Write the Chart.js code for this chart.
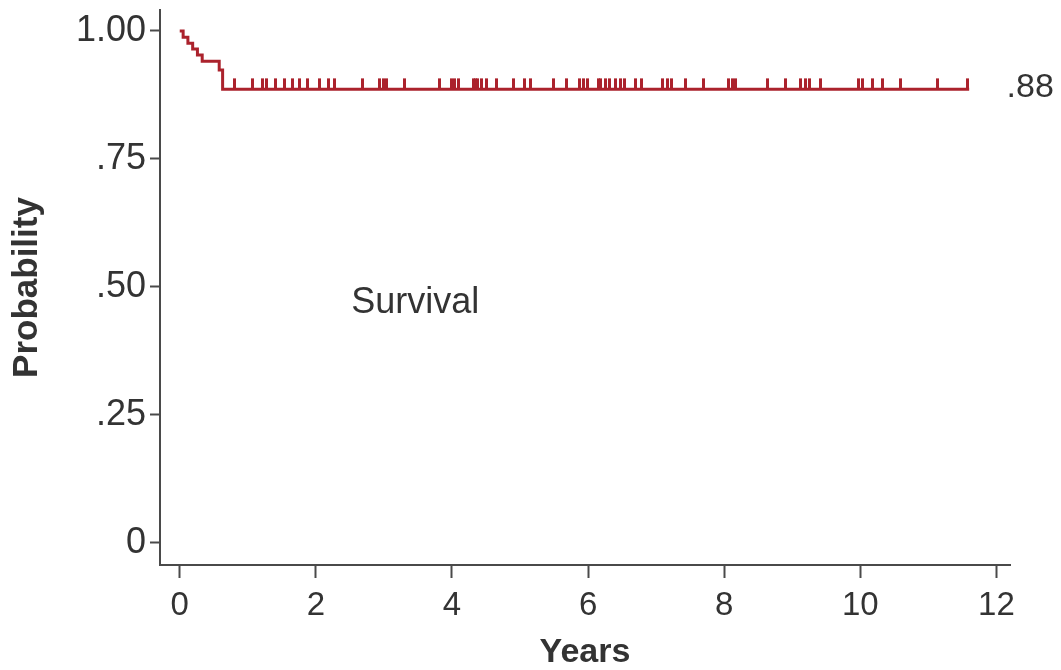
<!DOCTYPE html>
<html>
<head>
<meta charset="utf-8">
<script src="https://cdn.jsdelivr.net/npm/chart.js@4/dist/chart.umd.min.js"></script>
<style>
  html, body { margin: 0; padding: 0; background: #fff; }
  #wrap { width: 1061px; height: 670px; }
</style>
</head>
<body>
<div id="wrap"><canvas id="km"></canvas></div>
<script>
// Kaplan-Meier steps (years, survival probability)
const eventTimes = [0, 0.05, 0.12, 0.19, 0.26, 0.33, 0.58, 0.63, 11.60];
const survival   = [1.000, 0.988, 0.976, 0.965, 0.953, 0.941, 0.924, 0.886, 0.886];

// censored observations (years)
const censorTimes = [
  0.81, 1.07, 1.22, 1.28, 1.40, 1.54, 1.65, 1.76, 1.88, 2.06, 2.18, 2.28,
  2.68, 2.94, 2.99, 3.04, 3.31, 3.82, 4.00, 4.04, 4.09, 4.31, 4.34, 4.38,
  4.44, 4.51, 4.66, 4.90, 5.07, 5.15, 5.49, 5.69, 5.88, 5.94, 5.99, 6.15,
  6.18, 6.25, 6.32, 6.40, 6.47, 6.54, 6.69, 6.79, 7.10, 7.16, 7.22, 7.43,
  7.69, 8.06, 8.12, 8.16, 8.63, 8.90, 9.12, 9.19, 9.26, 9.41, 9.97, 10.03,
  10.18, 10.32, 10.59, 11.13, 11.57
];

const xTicks = [0, 2, 4, 6, 8, 10, 12];
const yTicks = [0, 0.25, 0.5, 0.75, 1];
const yTickLabels = ['0', '.25', '.50', '.75', '1.00'];

const lineColor = '#ab222c';
const axisColor = '#4a4a4a';
const textColor = '#333333';
const fontFamily = "'Liberation Sans', Arial, Helvetica, sans-serif";

// survival value at time t (step function lookup)
function survAt(t) {
  let s = survival[0];
  for (let i = 0; i < eventTimes.length; i++) {
    if (eventTimes[i] <= t) s = survival[i];
  }
  return s;
}

// censor mark: small vertical tick going up from the line
function makeCensorMark() {
  const c = document.createElement('canvas');
  c.width = 3;
  c.height = 24;
  const g = c.getContext('2d');
  g.fillStyle = lineColor;
  g.fillRect(0, 1, 3, 11);
  return c;
}

const textLabels = {
  id: 'textLabels',
  afterDatasetsDraw(chart) {
    const { ctx, scales: { x, y } } = chart;
    ctx.save();
    ctx.fillStyle = textColor;
    ctx.textBaseline = 'middle';
    ctx.font = `36px ${fontFamily}`;
    ctx.textAlign = 'center';
    ctx.fillText('Survival', x.getPixelForValue(3.46), y.getPixelForValue(0.469));
    ctx.font = `34px ${fontFamily}`;
    ctx.textAlign = 'left';
    ctx.fillText('.88', x.getPixelForValue(12.15), y.getPixelForValue(survival[survival.length - 1]) - 2);
    ctx.restore();
  }
};

new Chart(document.getElementById('km'), {
  type: 'line',
  data: {
    datasets: [
      {
        label: 'Survival',
        data: eventTimes.map((t, i) => ({ x: t, y: survival[i] })),
        stepped: 'before',
        borderColor: lineColor,
        borderWidth: 3,
        pointRadius: 0,
        fill: false
      },
      {
        label: 'Censored',
        type: 'scatter',
        data: censorTimes.map(t => ({ x: t, y: survAt(t) })),
        pointStyle: makeCensorMark(),
        pointRadius: 6,
        showLine: false
      }
    ]
  },
  options: {
    responsive: true,
    maintainAspectRatio: false,
    animation: false,
    layout: { padding: { top: 10, right: 51, bottom: 0, left: 0 } },
    plugins: {
      legend: { display: false },
      tooltip: { enabled: false }
    },
    scales: {
      x: {
        type: 'linear',
        min: -0.29,
        max: 12.2,
        afterBuildTicks: (scale) => { scale.ticks = xTicks.map(v => ({ value: v })); },
        afterFit: (scale) => {
          scale.height = 105;
          scale.paddingLeft = 0;
          scale.paddingRight = 0;
        },
        border: { display: true, color: axisColor, width: 2 },
        grid: { drawOnChartArea: false, drawTicks: true, tickLength: 13, tickColor: axisColor, tickWidth: 2 },
        ticks: {
          color: textColor,
          padding: 8,
          font: { family: fontFamily, size: 33 },
          callback: (v) => String(v)
        },
        title: {
          display: true,
          text: 'Years',
          color: textColor,
          padding: { top: 0, bottom: 0 },
          font: { family: fontFamily, size: 34, weight: 'bold', lineHeight: 1.0 }
        }
      },
      y: {
        type: 'linear',
        min: -0.043,
        max: 1.041,
        afterBuildTicks: (scale) => { scale.ticks = yTicks.map(v => ({ value: v })); },
        afterFit: (scale) => {
          scale.width = 160;
          scale.paddingTop = 0;
          scale.paddingBottom = 0;
        },
        border: { display: true, color: axisColor, width: 2 },
        grid: { drawOnChartArea: false, drawTicks: true, tickLength: 10, tickColor: axisColor, tickWidth: 2 },
        ticks: {
          color: textColor,
          padding: 4,
          font: { family: fontFamily, size: 36 },
          callback: (v) => yTickLabels[yTicks.indexOf(v)]
        },
        title: {
          display: true,
          text: 'Probability',
          color: textColor,
          padding: { top: 10, bottom: 0 },
          font: { family: fontFamily, size: 35, weight: 'bold', lineHeight: 1.0 }
        }
      }
    }
  },
  plugins: [textLabels]
});
</script>
</body>
</html>
